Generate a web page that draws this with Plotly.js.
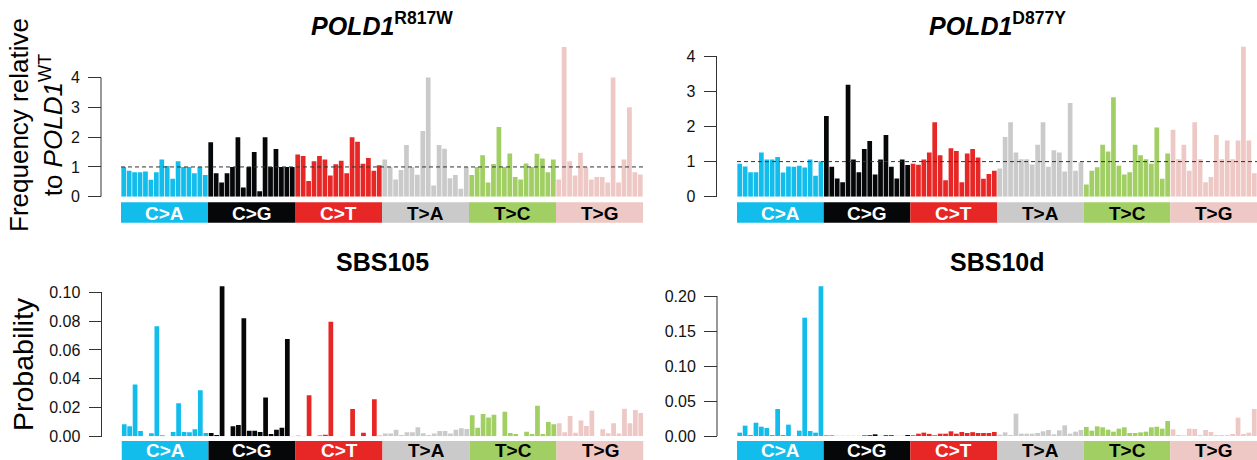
<!DOCTYPE html>
<html>
<head>
<meta charset="utf-8">
<script src="https://cdn.plot.ly/plotly-3.0.1.min.js"></script>
<style>html,body{margin:0;padding:0;background:#fff;}#chart{width:1257px;height:460px;}</style>
</head>
<body>
<div id="chart"></div>
<script>
// ---- categories ----
const mutationTypes = ['C>A','C>G','C>T','T>A','T>C','T>G'];
const flankBases = ['A','C','G','T'];
const typeColors = ['#12bdeb','#050708','#e62725','#cbcacb','#a1cf64','#edc8c5'];
const bandTextColors = ['#ffffff','#ffffff','#ffffff','#000000','#000000','#000000'];

// ---- series values (96 contexts each, grouped by mutation type) ----
const r817w = [
1.00,0.87,0.82,0.82,0.85,0.57,0.82,1.25,1.03,0.60,1.19,1.00,1.00,0.79,1.00,0.73,
1.83,0.79,0.48,0.79,1.00,2.00,0.31,1.00,1.50,0.18,2.00,1.00,1.60,1.00,1.00,1.00,
1.42,1.37,0.53,1.19,1.37,1.25,0.71,1.09,1.21,0.79,2.00,1.85,1.11,1.30,0.87,1.06,
1.25,1.00,0.58,0.90,1.74,1.00,0.74,2.21,4.01,0.38,1.74,1.61,0.62,0.73,0.27,1.00,
0.73,1.00,1.39,0.48,1.10,2.34,1.00,1.45,0.66,0.58,1.12,1.00,1.44,1.28,0.82,1.25,
0.58,5.03,1.19,0.71,1.48,1.00,0.58,0.66,0.66,0.48,4.01,0.48,1.25,3.01,0.82,0.75];

const d877y = [
0.94,0.86,0.70,0.70,1.26,1.06,1.06,1.13,0.69,0.86,0.85,0.88,0.83,1.06,0.60,1.01,
2.30,0.85,0.52,0.41,3.19,1.06,0.70,1.36,1.59,0.63,1.06,1.76,0.85,0.52,1.06,0.90,
0.94,0.91,1.06,1.26,2.12,1.18,0.47,1.38,1.30,0.41,1.23,1.36,1.12,0.51,0.65,0.74,
0.80,1.70,2.12,1.26,1.07,1.07,0.92,1.48,2.12,0.85,1.32,1.26,0.72,2.67,0.74,0.98,
0.35,0.74,0.84,1.48,1.29,2.83,0.88,0.63,0.70,1.48,1.18,1.07,0.94,1.97,0.51,1.23,
1.91,1.07,1.48,0.74,2.12,1.07,0.41,0.56,1.76,1.07,1.60,1.07,1.60,4.27,1.60,0.67];

const sbs105 = [
0.0083,0.0069,0.0359,0.0037,0.0001,0.0022,0.0764,0.0007,0.0001,0.0030,0.0229,0.0030,0.0028,0.0049,0.0320,0.0023,
0.0023,0.0009,0.1042,0.0001,0.0069,0.0079,0.0820,0.0039,0.0039,0.0030,0.0270,0.0016,0.0046,0.0060,0.0676,0.0002,
0.0003,0.0002,0.0285,0.0001,0.0005,0.0010,0.0796,0.0001,0.0002,0.0001,0.0190,0.0001,0.0025,0.0001,0.0257,0.0003,
0.0019,0.0019,0.0046,0.0009,0.0028,0.0028,0.0062,0.0021,0.0009,0.0019,0.0037,0.0037,0.0019,0.0046,0.0056,0.0050,
0.0146,0.0060,0.0155,0.0130,0.0150,0.0001,0.0171,0.0023,0.0016,0.0001,0.0032,0.0016,0.0213,0.0016,0.0100,0.0083,
0.0090,0.0028,0.0141,0.0025,0.0109,0.0072,0.0178,0.0001,0.0049,0.0021,0.0090,0.0019,0.0192,0.0090,0.0183,0.0162];

const sbs10d = [
0.0048,0.0148,0.0014,0.0190,0.0133,0.0114,0.0014,0.0386,0.0014,0.0162,0.0002,0.0076,0.1690,0.0071,0.0048,0.2138,
0.0005,0.0005,0.0001,0.0001,0.0001,0.0001,0.0001,0.0007,0.0010,0.0024,0.0001,0.0010,0.0010,0.0001,0.0001,0.0014,
0.0010,0.0033,0.0048,0.0030,0.0010,0.0033,0.0033,0.0067,0.0033,0.0057,0.0043,0.0055,0.0043,0.0043,0.0043,0.0057,
0.0019,0.0052,0.0014,0.0319,0.0033,0.0033,0.0033,0.0043,0.0067,0.0086,0.0024,0.0081,0.0152,0.0033,0.0062,0.0086,
0.0129,0.0076,0.0138,0.0124,0.0090,0.0062,0.0105,0.0124,0.0043,0.0043,0.0052,0.0062,0.0124,0.0133,0.0105,0.0214,
0.0095,0.0014,0.0010,0.0105,0.0100,0.0014,0.0086,0.0057,0.0014,0.0014,0.0014,0.0029,0.0262,0.0029,0.0048,0.0386];

// ---- tick labels ----
const ticksFreq = [0,1,2,3,4];
const ticksSBS105 = [0,0.02,0.04,0.06,0.08,0.10];
const ticksSBS10d = [0,0.05,0.10,0.15,0.20];

// ---- build categories ----
const contexts = [];
const typeIndex = [];
mutationTypes.forEach((t, ti) => {
  flankBases.forEach(a => flankBases.forEach(b => { contexts.push(a + '[' + t + ']' + b); typeIndex.push(ti); }));
});
const barColors = typeIndex.map(i => typeColors[i]);

// ---- layout geometry (pixels) ----
const W = 1257, H = 460;
const fx = p => p / W;
const fy = p => 1 - p / H;
const FONT = 'Liberation Sans, Arial, Helvetica, sans-serif';

const panels = [
  {vals: r817w, xd: [121, 643], zeroPx: 196.7, topPx: 40, tickTopPx: 77.7, ticks: ticksFreq, fmt: 'd', axisPx: 101,
   title: '<b><i>POLD1</i><sup>R817W</sup></b>', titleY: 24, bandTop: 202.3, bandBot: 222.7, dashed: true},
  {vals: d877y, xd: [737, 1257], zeroPx: 196.7, topPx: 40, tickTopPx: 56.3, ticks: ticksFreq, fmt: 'd', axisPx: 716.5,
   title: '<b><i>POLD1</i><sup>D877Y</sup></b>', titleY: 24, bandTop: 202.3, bandBot: 222.7, dashed: true},
  {vals: sbs105, xd: [121.5, 643.5], zeroPx: 436.3, topPx: 280, tickTopPx: 292.3, ticks: ticksSBS105, fmt: '.2f', axisPx: 101.5,
   title: '<b>SBS105</b>', titleY: 262, bandTop: 441, bandBot: 465, dashed: false},
  {vals: sbs10d, xd: [737, 1257], zeroPx: 436, topPx: 280, tickTopPx: 296, ticks: ticksSBS10d, fmt: '.2f', axisPx: 717,
   title: '<b>SBS10d</b>', titleY: 262, bandTop: 441, bandBot: 465, dashed: false}
];

const data = [];
const layout = {
  width: W, height: H,
  margin: {l: 0, r: 0, t: 0, b: 0},
  paper_bgcolor: '#ffffff', plot_bgcolor: '#ffffff',
  showlegend: false, bargap: 0.13,
  font: {family: FONT, color: '#000'},
  shapes: [], annotations: []
};

panels.forEach((p, k) => {
  const n = k === 0 ? '' : String(k + 1);
  const xa = 'x' + n, ya = 'y' + n;
  const tickMax = p.ticks[p.ticks.length - 1];
  const rangeMax = tickMax * (p.zeroPx - p.topPx) / (p.zeroPx - p.tickTopPx);
  data.push({
    type: 'bar', x: contexts, y: p.vals, xaxis: xa, yaxis: ya,
    marker: {color: barColors, line: {width: 0}},
    hovertemplate: '%{x}: %{y}<extra></extra>'
  });
  layout['xaxis' + n] = {
    domain: [fx(p.xd[0]), fx(p.xd[1])], anchor: ya, type: 'category',
    range: [-0.5, 95.5], visible: false, fixedrange: true
  };
  layout['yaxis' + n] = {
    domain: [fy(p.zeroPx), fy(p.topPx)], range: [0, rangeMax],
    anchor: 'free', position: fx(p.axisPx),
    tickvals: p.ticks, tickformat: p.fmt,
    ticks: 'outside', ticklen: 13, tickwidth: 1, tickcolor: '#333',
    ticklabelstandoff: 5,
    showline: false, showgrid: false, zeroline: false, fixedrange: true,
    tickfont: {family: FONT, size: 16, color: '#111'}
  };
  // axis line spanning only the ticked range
  layout.shapes.push({type: 'line', xref: 'paper', yref: ya, x0: fx(p.axisPx), x1: fx(p.axisPx),
    y0: 0, y1: tickMax, line: {color: '#333', width: 1}});
  if (p.dashed) {
    layout.shapes.push({type: 'line', xref: xa, yref: ya, x0: -0.5, x1: 95.5, y0: 1, y1: 1,
      line: {color: '#333', width: 1, dash: '4px,3px'}});
  }
  // category bands
  const textCenter = p.bandTop < 300 ? p.bandTop + 10.8 : p.bandTop + 9.5;
  mutationTypes.forEach((t, ti) => {
    layout.shapes.push({type: 'rect', xref: xa, yref: 'paper', x0: ti * 16 - 0.5, x1: ti * 16 + 15.5,
      y0: fy(p.bandBot), y1: fy(p.bandTop), fillcolor: typeColors[ti], line: {width: 0}, layer: 'below'});
    layout.annotations.push({xref: xa, yref: 'paper', x: ti * 16 + 7.5, y: fy(textCenter),
      text: '<b>' + t + '</b>', showarrow: false, xanchor: 'center', yanchor: 'middle',
      font: {family: FONT, size: 19, color: bandTextColors[ti]}});
  });
  // panel title
  layout.annotations.push({xref: 'paper', yref: 'paper', x: fx((p.xd[0] + p.xd[1]) / 2), y: fy(p.titleY),
    text: p.title, showarrow: false, xanchor: 'center', yanchor: 'middle',
    font: {family: FONT, size: 25, color: '#000'}});
});

// y-axis titles
layout.annotations.push({xref: 'paper', yref: 'paper', x: fx(36), y: fy(125),
  text: 'Frequency relative<br>to <i>POLD1</i><sup>WT</sup>', textangle: -90, showarrow: false,
  xanchor: 'center', yanchor: 'middle', font: {family: FONT, size: 26, color: '#000'}});
layout.annotations.push({xref: 'paper', yref: 'paper', x: fx(23), y: fy(364),
  text: 'Probability', textangle: -90, showarrow: false,
  xanchor: 'center', yanchor: 'middle', font: {family: FONT, size: 28.5, color: '#000'}});

Plotly.newPlot('chart', data, layout, {staticPlot: true, displayModeBar: false});
</script>
</body>
</html>
